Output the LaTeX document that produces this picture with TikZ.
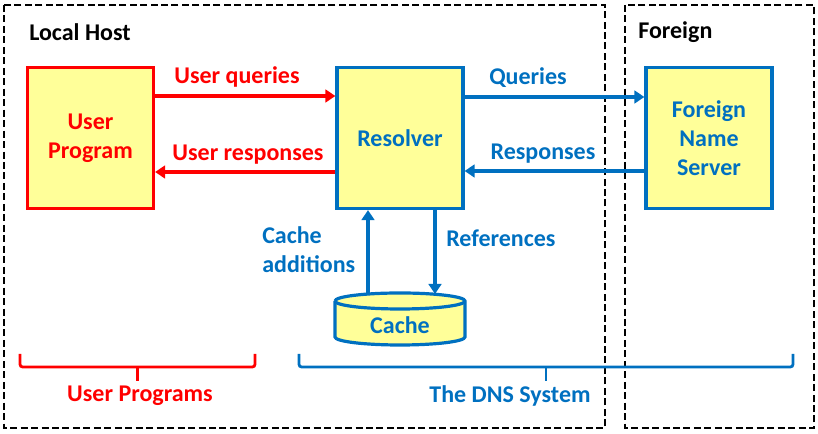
\documentclass[tikz,border=0pt]{standalone}
\usepackage{fontspec}
\setmainfont{Carlito}
\usetikzlibrary{arrows.meta}
\usetikzlibrary{positioning}
\definecolor{dnsred}{HTML}{FF0000}
\definecolor{dnsblue}{HTML}{0070C0}
\definecolor{boxfill}{HTML}{FFFF99}
\newcommand{\labelfont}{\fontsize{18}{21.75}\selectfont\bfseries}
\tikzset{>={Triangle[length=7.5pt,width=9.5pt]}}
\tikzset{
  hostbox/.style={draw, line width=2.4pt, fill=boxfill, minimum width=94.5pt,
    minimum height=105.75pt, align=center, font=\labelfont},
  link/.style={->, line width=2.4pt},
  zone/.style={line width=1.5pt, dash pattern=on 5.25pt off 2.6pt},
  txt/.style={font=\labelfont, inner sep=0pt},
  bracket/.style={line width=2.1pt, rounded corners=2pt}
}

\begin{document}
\begin{tikzpicture}[x=0.75pt,y=0.75pt]
        \useasboundingbox (0,0) rectangle (818,434);
        % zones
        \draw[zone] (4,429) rectangle (605,6);
        \draw[zone] (625,429) rectangle (814,6);
        \node[txt, anchor=west] (lhost) at (29,402) {Local Host};
        \node[txt, anchor=west] (foreign) at (638,402) {Foreign};
        % boxes
        \node[hostbox, draw=dnsred, text=dnsred] (uprog) at (90.5,296) {User\\Program};
        \node[hostbox, draw=dnsblue, text=dnsblue] (resolver) at (400,296) {Resolver};
        \node[hostbox, draw=dnsblue, text=dnsblue] (fns) at (709,296) {Foreign\\Name\\Server};
        % cache
        \coordinate (C) at (400,133);
        \draw[dnsblue, line width=2.4pt, fill=boxfill] (335,133) -- (335,97)
          arc[start angle=180, end angle=360, x radius=65, y radius=8] -- (465,133)
          arc[start angle=0, end angle=180, x radius=65, y radius=8];
        \draw[dnsblue, line width=2.4pt] (335,133)
          arc[start angle=180, end angle=360, x radius=65, y radius=8];
        \node[txt, text=dnsblue] (cache) at (400,109) {Cache};
        \coordinate (ctopA) at (368,140);
        \coordinate (ctopB) at (435,140);
        % links
        \draw[link, dnsred] ([yshift=31.5pt]uprog.east) -- ([yshift=31.5pt]resolver.west);
        \draw[link, dnsred] ([yshift=-25.5pt]resolver.west) -- ([yshift=-25.5pt]uprog.east);
        \draw[link, dnsblue] ([yshift=30.75pt]resolver.east) -- ([yshift=30.75pt]fns.east -| fns.west);
        \draw[link, dnsblue] ([yshift=-24.75pt]fns.west) -- ([yshift=-24.75pt]resolver.east);
        \draw[link, dnsblue] (ctopA) -- (ctopA |- resolver.south);
        \draw[link, dnsblue] (ctopB |- resolver.south) -- (ctopB);
        \node[txt, text=dnsred] at (237,357) {User queries};
        \node[txt, text=dnsred] at (248,279) {User responses};
        \node[txt, text=dnsblue] at (528,356) {Queries};
        \node[txt, text=dnsblue] at (543,280) {Responses};
        \node[txt, text=dnsblue, anchor=west, align=left] at (262,184) {Cache\\additions};
        \node[txt, text=dnsblue, anchor=west] at (446,196) {References};
        % brackets
        \draw[bracket, dnsred] (20,80) |- (255,67) -- (255,80);
        \draw[bracket, dnsred] (137.5,67) -- (137.5,53);
        \node[txt, text=dnsred] at (140,38) {User Programs};
        \draw[bracket, dnsblue] (299,80) |- (793,67) -- (793,80);
        \draw[bracket, dnsblue] (546,67) -- (546,53);
        \node[txt, text=dnsblue] at (510,38) {The DNS System};
      \end{tikzpicture}
\end{document}
